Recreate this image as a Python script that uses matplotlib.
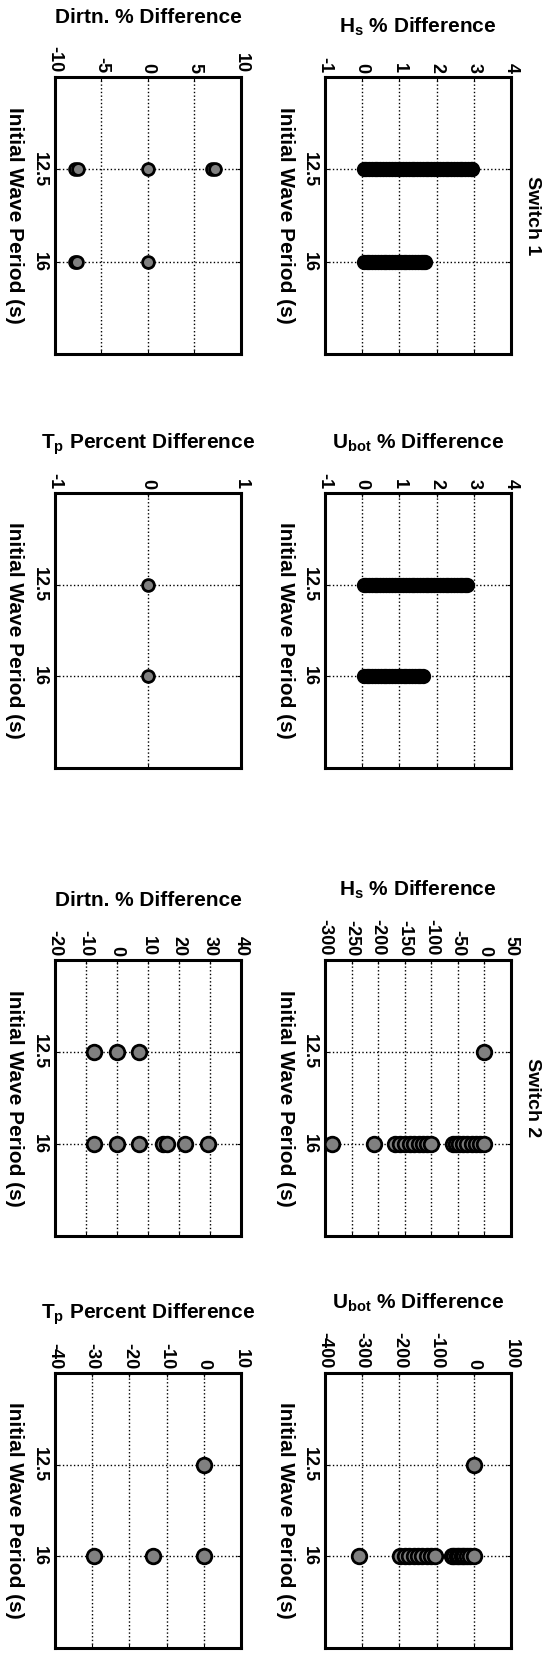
import matplotlib
matplotlib.use("Agg")
import matplotlib.pyplot as plt

plt.rcParams['font.family'] = ['Liberation Sans', 'DejaVu Sans']
plt.rcParams['font.weight'] = 'bold'
plt.rcParams['mathtext.fontset'] = 'custom'
plt.rcParams['mathtext.rm'] = 'Liberation Sans:bold'
plt.rcParams['mathtext.it'] = 'Liberation Sans:bold'
plt.rcParams['mathtext.bf'] = 'Liberation Sans:bold'

periods = [12.5, 16]
period_labels = ['12.5', '16']

# Switch 1 percent differences, one list per initial wave period
s1_hs_125 = [0.04, 0.11, 0.19, 0.26, 0.34, 0.41, 0.49, 0.57, 0.64, 0.72,
             0.79, 0.87, 0.95, 1.02, 1.10, 1.17, 1.25, 1.33, 1.40, 1.48,
             1.55, 1.63, 1.71, 1.78, 1.86, 1.93, 2.01, 2.09, 2.16, 2.24,
             2.31, 2.39, 2.47, 2.54, 2.62, 2.69, 2.77, 2.85, 2.92, 2.96]
s1_hs_16 = [0.04, 0.12, 0.19, 0.27, 0.35, 0.42, 0.50, 0.58, 0.65, 0.73,
            0.81, 0.88, 0.96, 1.04, 1.11, 1.19, 1.27, 1.34, 1.42, 1.50,
            1.57, 1.63, 1.68]
s1_ub_125 = [0.04, 0.11, 0.19, 0.26, 0.34, 0.41, 0.49, 0.57, 0.64, 0.72,
             0.79, 0.87, 0.95, 1.02, 1.10, 1.17, 1.25, 1.33, 1.40, 1.48,
             1.55, 1.63, 1.71, 1.78, 1.86, 1.93, 2.01, 2.09, 2.16, 2.24,
             2.31, 2.39, 2.47, 2.54, 2.62, 2.69, 2.76, 2.82]
s1_ub_16 = [0.04, 0.12, 0.19, 0.27, 0.35, 0.42, 0.50, 0.58, 0.65, 0.73,
            0.81, 0.88, 0.96, 1.04, 1.11, 1.19, 1.27, 1.34, 1.42, 1.49,
            1.56, 1.64]
s1_dir_125 = [-7.9, -7.55, 0.0, 6.9, 7.2]
s1_dir_16 = [-7.9, -7.6, 0.0]
s1_tp_125 = [0.0]
s1_tp_16 = [0.0]

# Switch 2 percent differences
s2_hs_125 = [0.0]
s2_hs_16 = [-287, -207, -168, -158, -149, -141, -133, -124, -116, -108, -100,
            -59, -53, -47, -40, -32, -24, -16, -8, -1]
s2_ub_125 = [0.0]
s2_ub_16 = [-308, -198, -186, -173, -161, -149, -138, -127, -116, -104,
            -59, -52, -46, -39, -33, -26, -19, -9, 0]
s2_dir_125 = [-7.5, 0.0, 7.1]
s2_dir_16 = [-7.5, 0.0, 7.1, 14.7, 16.1, 21.9, 29.5]
s2_tp_125 = [0.0]
s2_tp_16 = [-29.4, -13.6, 0.0]

hs_label = 'H$_s$ % Difference'
ub_label = 'U$_{bot}$ % Difference'
dir_label = 'Dirtn. % Difference'
tp_label = 'T$_p$ Percent Difference'

# (label, ticks, data at 12.5, data at 16, axes rect, marker size, dense, title)
panels = [
    (hs_label, [-1, 0, 1, 2, 3, 4], s1_hs_125, s1_hs_16,
     [0.5888, 0.7860, 0.3370, 0.1675], 8.5, True, 'Switch 1'),
    (ub_label, [-1, 0, 1, 2, 3, 4], s1_ub_125, s1_ub_16,
     [0.5888, 0.5357, 0.3370, 0.1663], 8.5, True, None),
    (dir_label, [-10, -5, 0, 5, 10], s1_dir_125, s1_dir_16,
     [0.0996, 0.7860, 0.3370, 0.1675], 8.5, False, None),
    (tp_label, [-1, 0, 1], s1_tp_125, s1_tp_16,
     [0.0996, 0.5357, 0.3370, 0.1663], 8.5, False, None),
    (hs_label, [-300, -250, -200, -150, -100, -50, 0, 50], s2_hs_125, s2_hs_16,
     [0.5888, 0.2527, 0.3370, 0.1669], 10.5, False, 'Switch 2'),
    (ub_label, [-400, -300, -200, -100, 0, 100], s2_ub_125, s2_ub_16,
     [0.5888, 0.0036, 0.3370, 0.1663], 10.5, False, None),
    (dir_label, [-20, -10, 0, 10, 20, 30, 40], s2_dir_125, s2_dir_16,
     [0.0996, 0.2527, 0.3370, 0.1669], 10.5, False, None),
    (tp_label, [-40, -30, -20, -10, 0, 10], s2_tp_125, s2_tp_16,
     [0.0996, 0.0036, 0.3370, 0.1663], 10.5, False, None),
]

fig = plt.figure(figsize=(5.52, 16.54), dpi=100)

for label, ticks, d125, d16, rect, ms, dense, title in panels:
    ax = fig.add_axes(rect)
    # difference runs across the page, wave period runs down it
    for per, vals in zip(periods, [d125, d16]):
        yy = [per] * len(vals)
        if dense:
            # packed runs: fill first, outlines on top so the run reads solid
            ax.plot(vals, yy, 'o', ls='none', ms=ms, mfc='#808080',
                    mec='none', zorder=3)
            ax.plot(vals, yy, 'o', ls='none', ms=ms, mew=2.5, mfc='none',
                    mec='black', zorder=4)
        else:
            ax.plot(vals, yy, 'o', ls='none', ms=ms, mew=2,
                    mfc='#808080', mec='black', zorder=3)
    ax.set_xlim(ticks[0], ticks[-1])
    ax.set_xticks(ticks)
    ax.set_xticklabels([str(t) for t in ticks])
    ax.set_ylim(19.5, 9)
    ax.set_yticks(periods)
    ax.set_yticklabels(period_labels)

    ax.xaxis.tick_top()
    ax.xaxis.set_label_position('top')
    ax.set_xlabel(label, fontsize=15, fontweight='bold', labelpad=17)
    ax.set_ylabel('Initial Wave Period (s)', fontsize=15, fontweight='bold',
                  rotation=-90, va='center', ha='center')
    ax.yaxis.set_label_coords(-0.215, 0.5)

    ax.tick_params(axis='x', labelrotation=-90, labelsize=13, pad=3,
                   direction='in', length=3, top=True, bottom=True)
    ax.tick_params(axis='y', labelrotation=-90, labelsize=13, pad=5,
                   direction='in', length=3, left=True, right=True)
    for t in ax.get_yticklabels():
        t.set_va('center')
    ax.grid(True, linestyle=':', color='black', linewidth=1)
    for sp in ax.spines.values():
        sp.set_linewidth(2.2)

    if title:
        ax.text(1.07, 0.5, title, transform=ax.transAxes, rotation=-90,
                ha='left', va='center', fontsize=14, fontweight='bold')

fig.savefig('out.png', dpi=100, facecolor='white')
